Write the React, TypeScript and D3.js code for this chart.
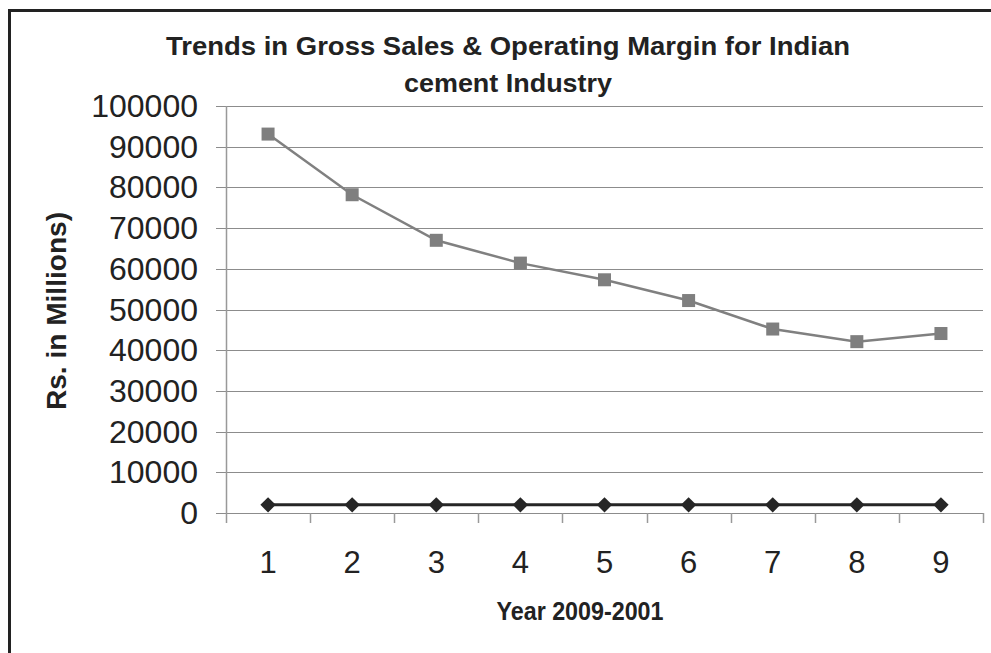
import React from "react";
import * as d3 from "d3";

const categories = ["1", "2", "3", "4", "5", "6", "7", "8", "9"];
const grossSales = [93100, 78200, 67000, 61400, 57300, 52200, 45200, 42100, 44100];
const operatingMargin = [2000, 2000, 2000, 2000, 2000, 2000, 2000, 2000, 2000];
const yTicks = [0, 10000, 20000, 30000, 40000, 50000, 60000, 70000, 80000, 90000, 100000];
const titleLines = ["Trends in Gross Sales & Operating Margin for Indian", "cement Industry"];
const xTitle = "Year 2009-2001";
const yTitle = "Rs. in Millions)";

const W = 991;
const H = 653;
const left = 226;
const right = 983;
const top = 106;
const bottom = 513;

export default function App() {
  const x = d3.scaleBand<string>().domain(categories).range([left, right]);
  const y = d3.scaleLinear().domain([0, 100000]).range([bottom, top]);
  const cx = (c: string) => (x(c) as number) + x.bandwidth() / 2;
  const line = d3
    .line<number>()
    .x((_, i) => cx(categories[i]))
    .y((d) => y(d));
  const font = "'Liberation Sans', Arial, sans-serif";
  const diamond = d3.symbol(d3.symbolDiamond2, 150)() as string;
  const titleLengths = [684, 208];

  return (
    <svg
      width={W}
      height={H}
      style={{ position: "absolute", left: 0, top: 0, background: "#fff" }}
      fontFamily={font}
    >
      <rect x={0} y={0} width={W} height={H} fill="#fff" />
      {/* frame */}
      <path d={`M9.5,${H} L9.5,10.5 L${W},10.5`} fill="none" stroke="#222" strokeWidth={3} />
      {/* title */}
      {titleLines.map((t, i) => (
        <text
          key={i}
          x={508}
          y={55 + i * 37}
          textAnchor="middle"
          fontSize={25}
          fontWeight="bold"
          fill="#222"
          textLength={titleLengths[i]}
          lengthAdjust="spacingAndGlyphs"
        >
          {t}
        </text>
      ))}
      {/* gridlines */}
      {yTicks.map((t) => (
        <line
          key={t}
          x1={216}
          x2={right}
          y1={Math.round(y(t)) + 0.5}
          y2={Math.round(y(t)) + 0.5}
          stroke="#8c8c8c"
          strokeWidth={1.2}
        />
      ))}
      {/* y axis */}
      <line x1={left + 0.5} x2={left + 0.5} y1={top} y2={bottom + 10} stroke="#999" strokeWidth={1.5} />
      {/* x ticks */}
      {categories.map((c) => (
        <line
          key={c}
          x1={Math.round((x(c) as number) + x.bandwidth()) + 0.5}
          x2={Math.round((x(c) as number) + x.bandwidth()) + 0.5}
          y1={bottom}
          y2={bottom + 10}
          stroke="#999"
          strokeWidth={1.5}
        />
      ))}
      {/* y tick labels */}
      {yTicks.map((t) => (
        <text
          key={t}
          x={198}
          y={y(t) + 11}
          textAnchor="end"
          fontSize={32}
          fill="#222"
        >
          {t}
        </text>
      ))}
      {/* x tick labels */}
      {categories.map((c) => (
        <text key={c} x={cx(c)} y={573} textAnchor="middle" fontSize={31} fill="#222">
          {c}
        </text>
      ))}
      {/* axis titles */}
      <text
        x={580}
        y={620}
        textAnchor="middle"
        fontSize={26}
        fontWeight="bold"
        fill="#222"
        textLength={167}
        lengthAdjust="spacingAndGlyphs"
      >
        {xTitle}
      </text>
      <text
        transform={`translate(66,311) rotate(-90)`}
        textAnchor="middle"
        fontSize={27}
        fontWeight="bold"
        fill="#222"
        textLength={198}
        lengthAdjust="spacingAndGlyphs"
      >
        {yTitle}
      </text>
      {/* series: operating margin */}
      <path d={line(operatingMargin) as string} fill="none" stroke="#262626" strokeWidth={3} />
      {operatingMargin.map((v, i) => (
        <path key={i} d={diamond} transform={`translate(${cx(categories[i])},${y(v)})`} fill="#262626" />
      ))}
      {/* series: gross sales */}
      <path d={line(grossSales) as string} fill="none" stroke="#808080" strokeWidth={2.5} />
      {grossSales.map((v, i) => (
        <rect
          key={i}
          x={cx(categories[i]) - 6.5}
          y={y(v) - 6.5}
          width={13}
          height={13}
          fill="#7f7f7f"
        />
      ))}
    </svg>
  );
}
